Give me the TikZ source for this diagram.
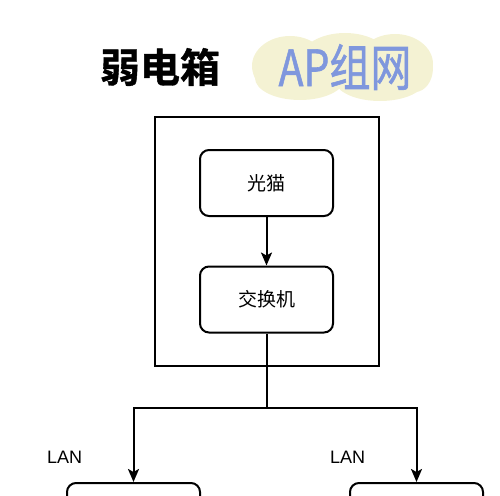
\documentclass[tikz,border=0pt]{standalone}
\usepackage{fontspec}
\setmainfont{Liberation Sans}
\newfontfamily\cjk{Noto Sans CJK SC}
\newfontfamily\cjkm[FakeBold=1.2]{Noto Sans CJK SC}
\newfontfamily\cjkb[FakeBold=1]{Noto Sans CJK SC Bold}
\usetikzlibrary{arrows.meta}
\definecolor{cloudy}{HTML}{F4F2D3}
\definecolor{apblue}{HTML}{7F97DD}
\tikzset{
  box/.style={draw, line width=2pt, rounded corners=9pt, minimum width=133pt, minimum height=66pt, inner sep=0pt, font=\cjk\fontsize{19}{19}\selectfont},
  frame/.style={draw, line width=2pt},
  conn/.style={line width=2pt, -{Stealth[length=13pt,width=11pt,inset=3pt]}},
  plain/.style={line width=2pt},
  lbl/.style={font=\fontsize{18}{18}\selectfont, inner sep=0pt}
}
\begin{document}
\begin{tikzpicture}[x=1pt,y=-1pt]
\useasboundingbox (0,0) rectangle (500,495);
\clip (0,0) rectangle (500,495);
% title
\node[font=\cjkb\fontsize{40}{40}\selectfont, inner sep=0pt] (title) at (160,67) {弱电箱};
% cloud
\begin{scope}
\fill[cloudy] (290,66) ellipse (38pt and 30pt);
\fill[cloudy] (345,60) ellipse (45pt and 27pt);
\fill[cloudy] (395,64) ellipse (38pt and 30pt);
\fill[cloudy] (300,78) ellipse (45pt and 22pt);
\fill[cloudy] (380,80) ellipse (45pt and 21pt);
\fill[cloudy] (270,68) ellipse (17pt and 22pt);
\fill[cloudy] (415,68) ellipse (18pt and 24pt);
\end{scope}
\node[font=\cjkm\fontsize{50}{50}\selectfont, text=apblue, inner sep=0pt, xscale=0.82] (ap) at (345,67) {AP组网};
% outer frame
\node[frame, minimum width=224pt, minimum height=249pt, inner sep=0pt] (frame) at (266.5,241.5) {};
% boxes
\node[box] (modem) at (266.5,183) {光猫};
\node[box] (switch) at (266.5,299.5) {交换机};
\node[box] (left) at (133.5,516) {};
\node[box] (right) at (416.5,516) {};
% connectors
\coordinate (split) at (266.5,407.5);
\coordinate (sl) at (133.5,407.5);
\coordinate (sr) at (416.5,407.5);
\draw[conn] (modem.south) -- (switch.north);
\draw[plain] (switch.south) -- (split);
\draw[plain, line cap=rect] (sl) -- (sr);
\draw[conn] (sl) -- (left.north);
\draw[conn] (sr) -- (right.north);
% labels
\node[lbl, anchor=west] (lan1) at (47,457) {LAN};
\node[lbl, anchor=west] (lan2) at (330,457) {LAN};
\end{tikzpicture}
\end{document}
